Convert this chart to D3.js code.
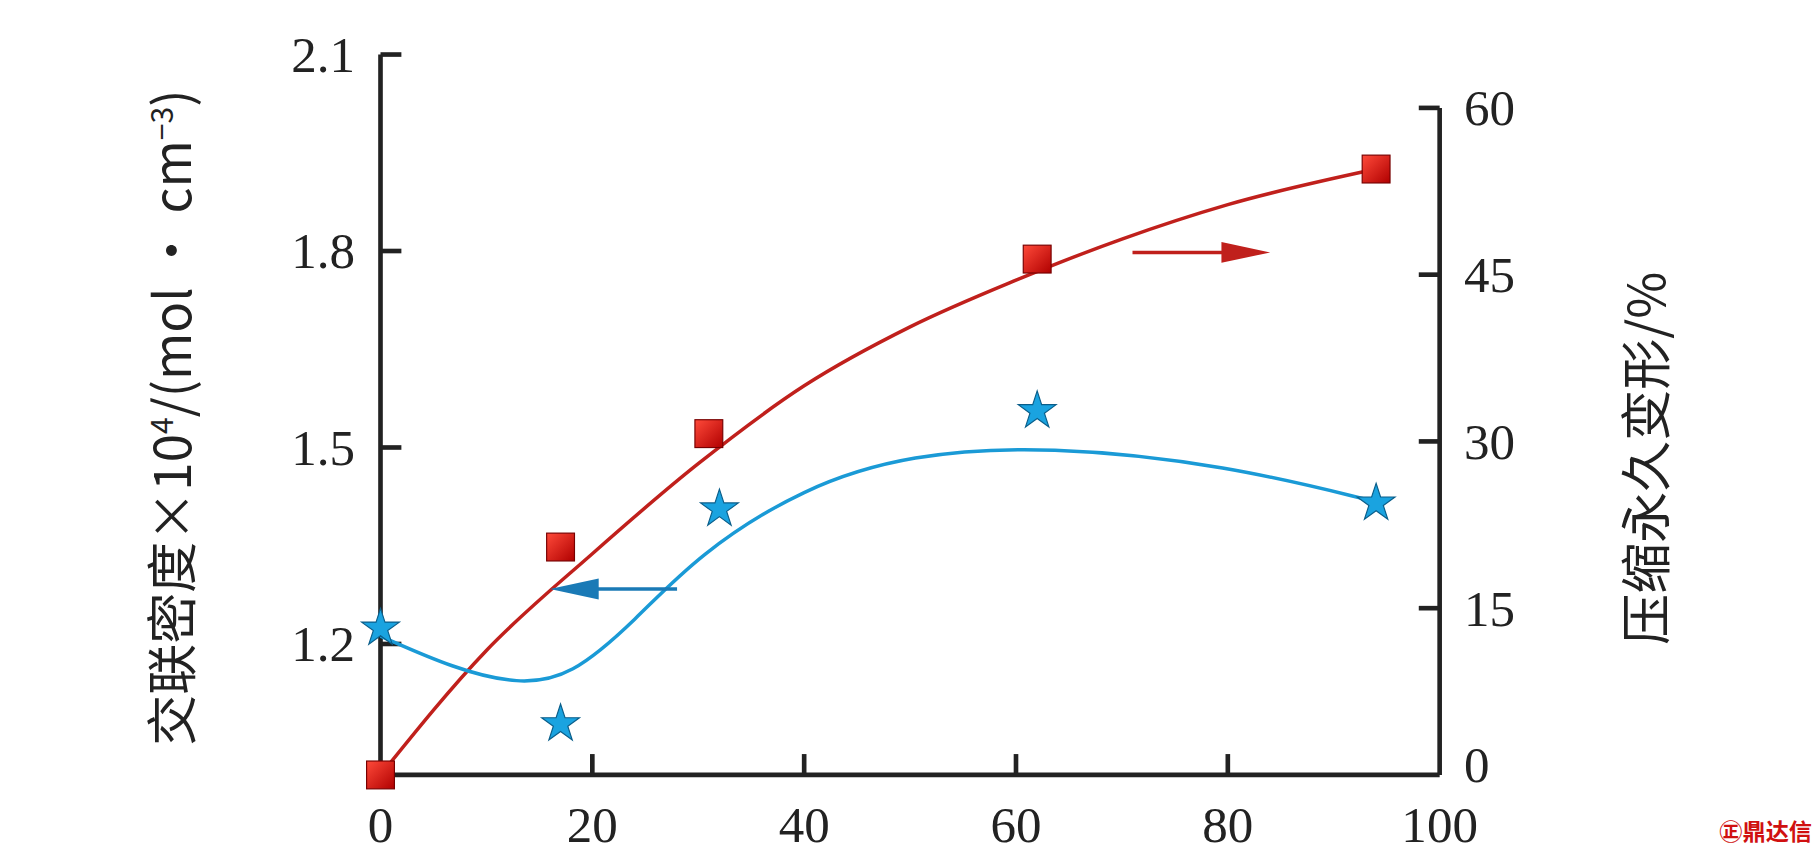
<!DOCTYPE html><html><head><meta charset="utf-8"><script src="https://cdn.jsdelivr.net/npm/d3@7"></script>
<style>body{margin:0;background:#fff}</style></head><body><svg id="c" width="1819" height="855" viewBox="0 0 1568 737"></svg><script>
const starX=[0,17,32,62,94], starY=[1.224,1.078,1.406,1.556,1.415];
const sqX=[0,17,31,62,94], sqY=[0,20.5,30.7,46.4,54.5];
const redFitX=[0,10,20,30,40,50,60,70,80,94], redFitY=[0,11.2,19.9,28.0,35.0,40.3,44.5,48.2,51.3,54.5];
const blueFitX=[0,7,13,18,24,30,40,50,63,80,94], blueFitY=[1.212,1.162,1.138,1.150,1.235,1.337,1.440,1.490,1.503,1.473,1.417];
const xTicks=[0,20,40,60,80,100], lTicks=[1.2,1.5,1.8,2.1], rTicks=[0,15,30,45,60];
const svg=d3.select("#c"), font="'Liberation Serif','DejaVu Serif',serif", cjk="'Noto Sans CJK SC'";
const x=d3.scaleLinear().domain([0,100]).range([328,1241]);
const yl=d3.scaleLinear().domain([1.0,2.1]).range([668,47]);
const yr=d3.scaleLinear().domain([0,60]).range([668,93]);
const g=svg.append("g").attr("stroke","#222").attr("stroke-width",4);
g.append("line").attr("x1",x(0)).attr("x2",x(100)).attr("y1",668).attr("y2",668);
g.append("line").attr("x1",x(0)).attr("x2",x(0)).attr("y1",yl(2.1)).attr("y2",668);
g.append("line").attr("x1",x(100)).attr("x2",x(100)).attr("y1",yr(60)).attr("y2",668);
xTicks.slice(1,5).forEach(t=>g.append("line").attr("x1",x(t)).attr("x2",x(t)).attr("y1",668).attr("y2",650));
lTicks.forEach(t=>g.append("line").attr("x1",x(0)).attr("x2",x(0)+18).attr("y1",yl(t)).attr("y2",yl(t)));
rTicks.slice(1).forEach(t=>g.append("line").attr("x1",x(100)).attr("x2",x(100)-18).attr("y1",yr(t)).attr("y2",yr(t)));
const tx=svg.append("g").attr("font-family",font).attr("font-size",44).attr("fill","#222");
xTicks.forEach(t=>tx.append("text").attr("x",x(t)).attr("y",726).attr("text-anchor","middle").text(t));
lTicks.forEach(t=>tx.append("text").attr("x",306).attr("y",yl(t)+15).attr("text-anchor","end").text(t.toFixed(1)));
rTicks.forEach(t=>tx.append("text").attr("x",1262).attr("y",yr(t)+(t===0?6:15)).text(t));
svg.append("text").attr("transform","translate(165,360) rotate(-90)").attr("text-anchor","middle").attr("font-family",cjk+","+font).attr("font-size",44).attr("fill","#222")
 .html("交联密度×10<tspan dy='-16' font-size='26'>4</tspan><tspan dy='16'>/(mol · cm</tspan><tspan dy='-16' font-size='26'>−3</tspan><tspan dy='16'>)</tspan>");
svg.append("text").attr("transform","translate(1435,395) rotate(-90)").attr("text-anchor","middle").attr("font-family",cjk).attr("font-size",44).attr("fill","#222").text("压缩永久变形/%");
const line=d3.line().curve(d3.curveMonotoneX);
svg.append("path").attr("d",line(redFitX.map((v,i)=>[x(v),yr(redFitY[i])]))).attr("fill","none").attr("stroke","#c0201c").attr("stroke-width",3);
svg.append("path").attr("d",d3.line().curve(d3.curveBasis)(blueFitX.map((v,i)=>[x(v),yl(blueFitY[i])]))).attr("fill","none").attr("stroke","#1a9ad6").attr("stroke-width",3);
const defs=svg.append("defs");
const gr=defs.append("linearGradient").attr("id","gs").attr("x1",0).attr("y1",0).attr("x2",1).attr("y2",1);
gr.append("stop").attr("offset",0).attr("stop-color","#ff4a3a");gr.append("stop").attr("offset",1).attr("stop-color","#b00000");
sqX.forEach((v,i)=>svg.append("rect").attr("x",x(v)-12).attr("y",yr(sqY[i])-12).attr("width",24).attr("height",24).attr("fill","url(#gs)").attr("stroke","#700").attr("stroke-width",1));
const star=d3.symbol().type(d3.symbolStar).size(330);
starX.forEach((v,i)=>svg.append("path").attr("d",star()).attr("transform",`translate(${x(v)},${yl(starY[i])})`).attr("fill","#1aa3e0").attr("stroke","#0a5e8a").attr("stroke-width",1));
function arrow(x1,x2,y,c){const d=x2>x1?1:-1;
 svg.append("line").attr("x1",x1).attr("x2",x2-d*40).attr("y1",y).attr("y2",y).attr("stroke",c).attr("stroke-width",3);
 svg.append("path").attr("d",`M${x2},${y}L${x2-d*42},${y-9}L${x2-d*42},${y+9}Z`).attr("fill",c);}
arrow(x(71),x(84),yr(47),"#c0201c");
arrow(x(28),x(16),yl(1.284),"#1a7ab6");
svg.append("text").attr("x",1562).attr("y",724).attr("text-anchor","end").attr("font-family",cjk).attr("font-weight","bold").attr("font-size",20).attr("fill","#d01010").text("㊣鼎达信");
</script></body></html>
